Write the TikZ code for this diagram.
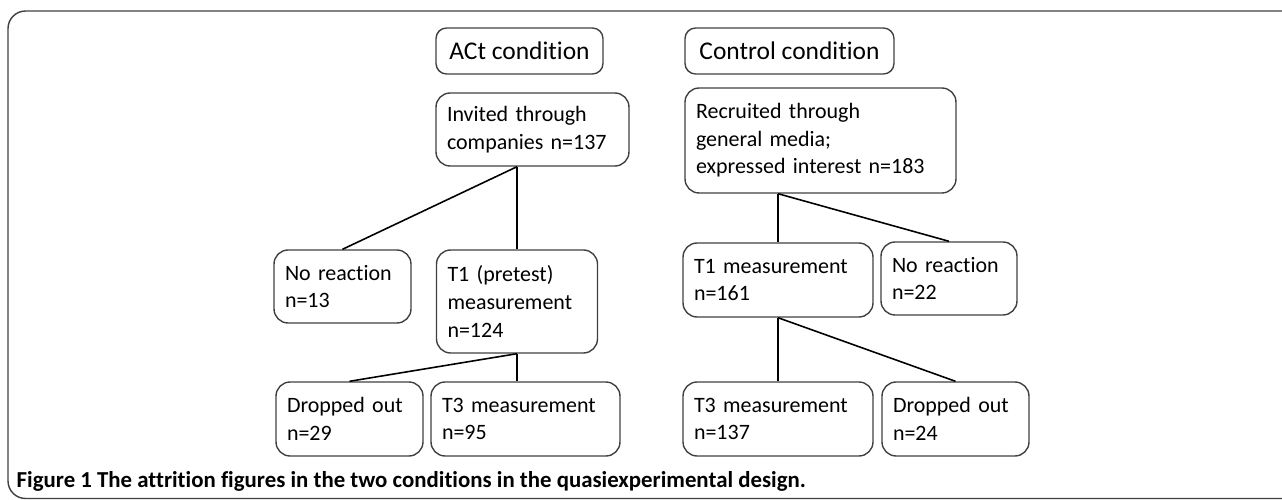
\documentclass[tikz,border=0pt]{standalone}
\usepackage{fontspec}
\setmainfont{Carlito}[Ligatures=NoCommon]
\usepackage{tikz}

\begin{document}
\begin{tikzpicture}[x=0.02cm, y=-0.02cm, line width=0.8pt]
    \tikzstyle{box}=[draw=black!75, rounded corners=8pt, inner xsep=0.22cm, inner ysep=0pt, align=left, font=\fontsize{12.5}{15.7}\selectfont]
    \tikzstyle{head}=[draw=black!75, rounded corners=6pt, inner sep=0pt, minimum height=0.92cm, font=\fontsize{14.5}{17}\selectfont]
    \tikzstyle{link}=[draw=black, line width=0.9pt]

    \useasboundingbox (0,0) rectangle (1282,500);
    \clip (0,0) rectangle (1282,500);
    \draw[draw=black!75, rounded corners=10pt] (8,11) rectangle (1300,498.5);

    % Headers
    \node[head, minimum width=3.34cm] (act) at (519.5,51) {ACt condition};
    \node[head, minimum width=4.18cm] (ctl) at (789.5,51) {Control condition};

    % ACt branch
    \node[box, text width=3.42cm, minimum height=1.46cm] (inv) at (532.5,129.5) {Invited through\\companies n=137};
    \node[box, text width=2.30cm, minimum height=1.46cm] (nra) at (342.5,286.5) {No reaction\\n=13};
    \node[box, text width=2.78cm, minimum height=2.06cm] (t1a) at (517,301.5) {T1 (pretest)\\measurement\\n=124};
    \node[box, text width=2.50cm, minimum height=1.48cm] (dra) at (349.5,419) {Dropped out\\n=29};
    \node[box, text width=3.34cm, minimum height=1.48cm] (t3a) at (525.5,419) {T3 measurement\\n=95};

    % Control branch
    \node[box, text width=4.98cm, minimum height=2.10cm] (rec) at (820.5,140.5) {Recruited through\\general media;\\expressed interest n=183};
    \node[box, text width=3.36cm, minimum height=1.48cm] (t1c) at (778,280) {T1 measurement\\n=161};
    \node[box, text width=2.28cm, minimum height=1.46cm] (nrc) at (949,278.5) {No reaction\\n=22};
    \node[box, text width=3.36cm, minimum height=1.48cm] (t3c) at (778,419) {T3 measurement\\n=137};
    \node[box, text width=2.50cm, minimum height=1.48cm] (drc) at (955.5,419) {Dropped out\\n=24};

    % Links
    \path[link] (inv.south -| t1a.north) edge (nra.north) edge (t1a.north);
    \path[link] (t1a.south) edge (dra.north) edge (t1a.south |- t3a.north);
    \path[link] (rec.south -| t1c.north) edge (t1c.north) edge (nrc.north);
    \path[link] (t1c.south) edge (t3c.north) edge (drc.north);

    \node[anchor=base west, inner sep=0pt, font=\fontsize{13}{15}\selectfont\bfseries] (cap) at (16,487) {Figure 1 The attrition figures in the two conditions in the quasiexperimental design.};
\end{tikzpicture}
\end{document}
